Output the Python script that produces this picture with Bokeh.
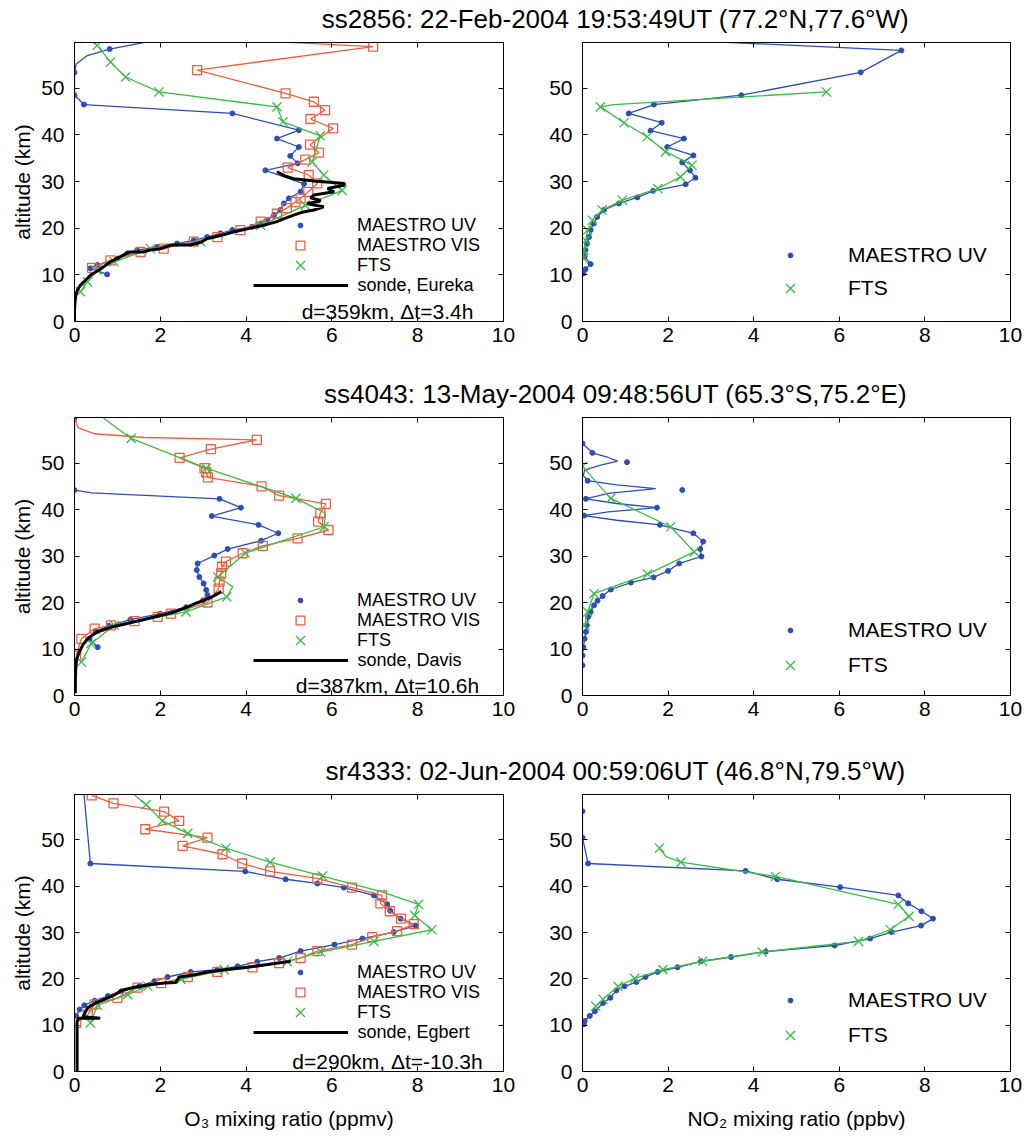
from bokeh.plotting import figure
from bokeh.models import Range1d, LinearAxis, FixedTicker, Legend, LegendItem, Label
from bokeh.layouts import column, row
from bokeh.embed import file_html
from bokeh.resources import INLINE

# ---------------- text ----------------
titles = ["ss2856: 22-Feb-2004 19:53:49UT (77.2°N,77.6°W)",
          "ss4043: 13-May-2004 09:48:56UT (65.3°S,75.2°E)",
          "sr4333: 02-Jun-2004 00:59:06UT (46.8°N,79.5°W)"]
sonde_names = ["sonde, Eureka", "sonde, Davis", "sonde, Egbert"]
coincidence = ["d=359km, Δt=3.4h", "d=387km, Δt=10.6h", "d=290km, Δt=-10.3h"]
x_ticks = [0, 2, 4, 6, 8, 10]
y_ticks = [0, 10, 20, 30, 40, 50]

# ---------------- row 1 : ss2856 ----------------
uv1_alt = [58.4, 53.4, 48.5, 46.5, 44.6, 41.0, 39.2, 37.4, 35.5, 33.9, 32.4, 29.5, 27.8, 26.4, 25.3, 23.9, 22.8, 21.7, 21.0, 20.3, 19.6, 18.9, 18.1, 17.4, 16.7, 16.0, 15.3, 14.6, 13.5, 12.1, 11.4, 10.1]
uv1_o3 = [0.82, 0.0, 0.0, 0.22, 3.68, 5.23, 4.72, 5.23, 5.03, 5.2, 4.45, 5.35, 5.27, 5.0, 4.88, 4.8, 4.65, 4.49, 4.34, 4.14, 3.68, 3.4, 3.09, 2.78, 2.39, 1.93, 1.46, 1.23, 1.0, 0.53, 0.37, 0.76]
uv1_extra_alt = [60.3, 57.0, 55.2, 50.8]
uv1_extra_o3 = [1.9, 0.3, 0.04, 0.0]
vis1_alt = [58.9, 53.9, 48.9, 47.1, 45.3, 43.4, 41.4, 37.9, 36.2, 34.7, 33.0, 31.4, 29.6, 27.8, 26.4, 25.6, 24.3, 23.1, 21.4, 19.6, 18.1, 17.1, 15.6, 14.9, 13.1, 11.5]
vis1_o3 = [6.96, 2.86, 4.92, 5.58, 5.84, 5.5, 6.03, 5.49, 5.7, 5.38, 4.97, 5.46, 5.66, 5.45, 5.27, 5.15, 4.95, 4.72, 4.34, 3.87, 3.33, 2.78, 2.08, 1.54, 0.84, 0.41]
vis1_extra_alt = [60.3]
vis1_extra_o3 = [4.0]
fts1_alt = [59.2, 55.6, 52.4, 49.2, 46.0, 42.8, 39.8, 34.2, 31.4, 28.1, 24.9, 20.6, 17.1, 15.6, 12.8, 11.0, 8.5, 6.4]
fts1_o3 = [0.53, 0.84, 1.19, 1.97, 4.72, 4.86, 5.73, 5.54, 5.81, 6.24, 5.38, 4.34, 2.94, 1.77, 0.92, 0.53, 0.3, 0.14]
fts1_extra_alt = [60.5]
fts1_extra_o3 = [0.3]
sonde1_alt = [0.0, 2.0, 4.0, 5.6, 6.8, 7.8, 8.8, 9.9, 11.2, 12.8, 13.8, 14.9, 14.9, 15.3, 15.6, 15.9, 16.4, 16.4, 17.0, 17.8, 18.4, 19.2, 19.8, 20.6, 21.4, 22.1, 22.8, 23.4, 23.9, 24.6, 25.0, 25.3, 25.7, 26.0, 26.5, 27.1, 27.8, 28.5, 29.2, 29.6, 30.1, 30.6, 31.2, 32.1]
sonde1_o3 = [0.0, 0.0, 0.01, 0.03, 0.07, 0.14, 0.25, 0.37, 0.6, 0.84, 1.05, 1.27, 1.6, 1.75, 2.0, 2.1, 2.24, 2.7, 2.95, 3.09, 3.4, 3.71, 4.0, 4.4, 4.72, 4.9, 5.11, 5.3, 5.58, 5.81, 5.55, 5.42, 5.7, 5.73, 5.5, 5.58, 6.05, 5.9, 6.28, 6.3, 5.58, 5.11, 4.9, 4.72]
uv2_alt = [58.1, 53.4, 48.5, 46.5, 44.6, 42.6, 40.9, 39.2, 37.4, 35.6, 34.1, 32.4, 30.8, 29.4, 28.0, 26.6, 25.3, 23.9, 22.4, 21.0, 19.6, 18.1, 16.7, 15.3, 13.9, 12.3, 11.2, 10.3]
uv2_no2 = [7.45, 6.5, 3.71, 1.67, 1.08, 1.85, 1.59, 2.37, 1.98, 2.59, 2.33, 2.51, 2.64, 2.41, 1.65, 1.28, 0.85, 0.5, 0.34, 0.26, 0.19, 0.15, 0.11, 0.07, 0.05, 0.19, 0.07, 0.02]
uv2_extra_alt = [60.0]
uv2_extra_no2 = [3.0]
fts2_alt = [49.2, 46.0, 42.6, 39.6, 36.4, 33.5, 31.0, 28.5, 26.0, 23.9, 21.7, 19.6, 17.4, 15.3, 13.5]
fts2_no2 = [5.7, 0.42, 0.97, 1.51, 1.94, 2.56, 2.29, 1.76, 0.93, 0.46, 0.23, 0.12, 0.07, 0.03, 0.02]
fts2_extra_alt = [46.5]
fts2_extra_no2 = [0.73]

# ---------------- row 2 : ss4043 ----------------
uv3_alt = [59.6, 44.2, 42.3, 40.4, 38.6, 36.7, 34.9, 33.3, 31.5, 30.1, 28.4, 27.0, 25.5, 24.1, 22.7, 21.6, 20.5, 19.0, 17.6, 16.3, 15.0, 13.8, 12.2, 10.4]
uv3_o3 = [0.0, 0.0, 3.38, 3.88, 3.2, 4.29, 4.75, 4.35, 3.57, 3.26, 2.87, 2.85, 2.91, 3.01, 3.07, 3.1, 3.0, 2.6, 2.0, 1.3, 0.8, 0.5, 0.35, 0.54]
uv3_extra_alt = [60.0, 43.6]
uv3_extra_o3 = [0.0, 0.4]
vis3_alt = [55.0, 53.0, 51.1, 48.9, 48.0, 46.9, 45.0, 43.0, 41.2, 39.2, 37.4, 35.6, 33.8, 32.2, 30.6, 28.8, 27.7, 26.3, 24.5, 23.0, 20.0, 17.6, 16.9, 16.0, 15.1, 14.4, 12.2, 8.6]
vis3_o3 = [4.25, 3.18, 2.45, 3.03, 3.07, 3.11, 4.36, 4.77, 5.86, 5.73, 5.68, 5.92, 5.2, 4.39, 3.92, 3.53, 3.44, 3.42, 3.38, 3.36, 3.1, 2.25, 1.94, 1.4, 0.85, 0.47, 0.16, 0.04]
vis3_extra_alt = [59.9, 57.6, 56.3, 55.5]
vis3_extra_o3 = [0.0, 0.08, 0.47, 1.63]
fts3_alt = [55.3, 48.9, 42.4, 36.3, 30.6, 25.5, 21.2, 18.0, 15.1, 11.2, 7.2]
fts3_o3 = [1.32, 3.07, 5.16, 5.82, 3.98, 3.34, 3.55, 2.6, 0.93, 0.39, 0.16]
fts3_extra_alt = [60.2, 39.2, 23.4]
fts3_extra_o3 = [0.6, 5.85, 3.69]
sonde3_alt = [0.5, 3.0, 6.0, 7.9, 9.5, 11.0, 12.2, 13.0, 13.7, 14.2, 14.7, 15.2, 15.7, 16.3, 16.9, 17.4, 18.0, 18.6, 19.4, 19.9, 20.5, 21.2, 21.9, 22.4]
sonde3_o3 = [0.02, 0.02, 0.03, 0.05, 0.12, 0.2, 0.31, 0.42, 0.54, 0.7, 0.85, 1.1, 1.32, 1.6, 1.86, 2.1, 2.33, 2.5, 2.72, 2.85, 3.03, 3.2, 3.34, 3.42]
uv4_alt = [54.2, 52.2, 50.2, 46.2, 44.2, 42.3, 40.4, 38.7, 36.7, 34.9, 33.1, 31.5, 29.9, 28.4, 26.8, 25.4, 24.3, 22.8, 21.4, 20.4, 19.4, 18.0, 16.9, 15.1, 13.7, 12.2, 10.4, 8.6, 6.5]
uv4_no2 = [0.0, 0.23, 1.04, 0.12, 2.33, 0.08, 1.74, 0.04, 1.81, 2.59, 2.82, 2.75, 2.78, 2.26, 2.0, 1.66, 1.13, 0.66, 0.47, 0.35, 0.27, 0.19, 0.13, 0.1, 0.08, 0.05, 0.02, 0.0, 0.0]
uv4_curve_alt = [59.8, 54.2, 52.2, 51.2, 50.4, 49.5, 48.5, 47.3, 46.2, 45.3, 44.5, 43.5, 42.3, 41.3, 40.4, 39.5, 38.7, 37.7, 36.7, 34.9, 33.1, 31.5, 29.9, 28.4, 26.8, 25.4, 24.3, 22.8, 21.4, 20.4, 19.4, 18.0, 16.9, 15.1, 13.7, 12.2, 10.4, 8.6, 6.5]
uv4_curve_no2 = [0.0, 0.0, 0.23, 0.6, 0.82, 0.4, 0.05, 0.02, 0.12, 0.8, 1.71, 0.6, 0.08, 0.8, 1.74, 0.6, 0.04, 0.8, 1.81, 2.59, 2.82, 2.75, 2.78, 2.26, 2.0, 1.66, 1.13, 0.66, 0.47, 0.35, 0.27, 0.19, 0.13, 0.1, 0.08, 0.05, 0.02, 0.0, 0.0]
fts4_alt = [49.3, 42.4, 36.3, 30.9, 26.1, 21.9, 18.0, 15.1]
fts4_no2 = [0.0, 0.66, 2.06, 2.61, 1.52, 0.27, 0.12, 0.05]

# ---------------- row 3 : sr4333 ----------------
uv5_alt = [44.9, 43.2, 41.5, 40.6, 39.7, 38.0, 36.1, 34.7, 33.0, 31.5, 30.1, 28.7, 27.4, 26.0, 24.5, 23.7, 22.7, 22.0, 21.5, 20.4, 19.5, 18.4, 17.3, 16.3, 15.3, 14.3, 13.4, 12.0]
uv5_o3 = [0.37, 3.98, 4.92, 5.66, 6.28, 6.98, 7.29, 7.36, 7.6, 7.95, 7.44, 6.71, 6.06, 5.27, 4.77, 4.26, 3.8, 3.33, 2.71, 2.17, 1.86, 1.51, 1.09, 0.78, 0.47, 0.23, 0.12, 0.04]
uv5_extra_alt = [60.0]
uv5_extra_o3 = [0.22]
vis5_alt = [59.6, 57.9, 56.1, 54.1, 52.3, 50.5, 48.7, 46.9, 44.9, 43.2, 41.7, 39.7, 38.0, 36.3, 34.6, 33.0, 31.8, 30.3, 29.0, 27.4, 26.0, 24.5, 23.4, 22.5, 21.5, 20.4, 19.1, 18.1, 15.9, 14.5, 12.3, 10.5]
vis5_o3 = [0.4, 0.91, 2.09, 2.44, 1.65, 3.1, 2.52, 3.45, 3.91, 4.56, 5.66, 6.47, 7.17, 7.13, 7.35, 7.61, 7.91, 7.52, 6.94, 6.47, 5.66, 5.27, 4.77, 4.15, 3.33, 2.64, 2.02, 1.47, 1.0, 0.47, 0.31, 0.04]
fts5_alt = [57.6, 54.1, 51.4, 48.2, 45.2, 42.2, 36.1, 33.7, 30.6, 28.1, 25.8, 23.7, 22.0, 19.9, 18.4, 16.6, 14.3, 10.5]
fts5_o3 = [1.67, 2.05, 2.64, 3.53, 4.56, 5.78, 8.02, 7.93, 8.33, 6.98, 5.74, 4.96, 3.49, 2.48, 1.71, 1.24, 0.54, 0.37]
fts5_extra_alt = [60.5, 38.9]
fts5_extra_o3 = [1.3, 7.13]
sonde5_alt = [0.1, 5.0, 10.9, 11.5, 11.5, 11.8, 12.8, 13.8, 14.8, 15.8, 16.6, 17.5, 18.2, 18.8, 19.1, 19.2, 20.4, 20.9, 21.5, 22.0, 22.5, 23.1, 23.8]
sonde5_o3 = [0.06, 0.06, 0.06, 0.1, 0.6, 0.2, 0.25, 0.31, 0.5, 0.75, 0.95, 1.09, 1.4, 1.78, 2.1, 2.36, 2.44, 2.8, 3.1, 3.55, 4.03, 4.5, 5.04]
uv6_alt = [56.2, 50.5, 44.9, 43.3, 41.5, 39.8, 38.0, 36.3, 34.6, 33.0, 31.5, 30.1, 28.7, 27.2, 25.9, 24.7, 23.8, 22.5, 21.5, 20.4, 19.3, 18.4, 17.5, 15.9, 14.8, 13.0, 12.0, 10.9, 10.2]
uv6_no2 = [0.0, 0.0, 0.13, 3.81, 4.55, 6.02, 7.38, 7.61, 7.92, 8.19, 7.91, 7.22, 6.72, 5.89, 4.28, 3.47, 2.77, 2.22, 1.76, 1.47, 1.26, 0.98, 0.79, 0.65, 0.48, 0.29, 0.17, 0.05, 0.03]
fts6_alt = [48.2, 45.2, 42.1, 36.1, 33.5, 30.6, 28.1, 25.8, 23.8, 22.0, 20.1, 18.4, 15.6, 14.1]
fts6_no2 = [1.8, 2.3, 4.51, 7.38, 7.63, 7.19, 6.45, 4.2, 2.81, 1.88, 1.22, 0.83, 0.48, 0.31]
fts6_extra_alt = [46.4]
fts6_extra_no2 = [1.95]

# ---------------- style ----------------
FONT = "Liberation Sans"
BLUE = "#2d4eb5"
RED = "#ef5f3f"
GREEN = "#3cbb48"
Y_TOP = 59.8
FS = "21px"
KEY_FS = "18px"


def merged(alt_a, val_a, alt_b=(), val_b=()):
    pts = sorted(zip(list(alt_a) + list(alt_b), list(val_a) + list(val_b)), key=lambda t: -t[0])
    return [v for a, v in pts], [a for a, v in pts]


def style_axis(ax, standoff):
    ax.axis_line_color = "black"
    ax.major_tick_line_color = "black"
    ax.major_tick_in = 5
    ax.major_tick_out = 0
    ax.minor_tick_line_color = None
    ax.major_label_text_font = FONT
    ax.major_label_text_font_size = FS
    ax.major_label_text_color = "black"
    ax.major_label_standoff = standoff


def make_panel(fw, fh, bl, br, bt, bb, ylabel=None, xlabel=None):
    p = figure(frame_width=fw, frame_height=fh, x_range=Range1d(0, 10), y_range=Range1d(0, Y_TOP),
               min_border_left=bl, min_border_right=br, min_border_top=bt, min_border_bottom=bb,
               output_backend="svg", toolbar_location=None)
    p.xgrid.visible = False
    p.ygrid.visible = False
    p.outline_line_color = "black"
    p.outline_line_alpha = 1.0
    p.xaxis[0].ticker = FixedTicker(ticks=x_ticks)
    p.yaxis[0].ticker = FixedTicker(ticks=y_ticks)
    style_axis(p.xaxis[0], 6)
    style_axis(p.yaxis[0], 10)
    for ax in (p.xaxis[0], p.yaxis[0]):
        ax.axis_label_text_font = FONT
        ax.axis_label_text_font_size = FS
        ax.axis_label_text_font_style = "normal"
        ax.axis_label_text_color = "black"
    p.yaxis[0].axis_label_standoff = 4
    p.xaxis[0].axis_label_standoff = 12
    if ylabel:
        p.yaxis[0].axis_label = ylabel
    if xlabel:
        p.xaxis[0].axis_label = xlabel
    top = LinearAxis(ticker=FixedTicker(ticks=x_ticks), major_label_overrides={t: "" for t in x_ticks})
    right = LinearAxis(ticker=FixedTicker(ticks=y_ticks), major_label_overrides={t: "" for t in y_ticks})
    for ax in (top, right):
        style_axis(ax, 0)
        ax.major_label_text_font_size = "1px"
    p.add_layout(top, "above")
    p.add_layout(right, "right")
    return p


def series(p, line_xy, mx, my, color, marker, size):
    p.line(line_xy[0], line_xy[1], line_color=color, line_width=1.3)
    if marker == "circle":
        return p.scatter(mx, my, marker="circle", size=size, fill_color=color, line_color=color)
    return p.scatter(mx, my, marker=marker, size=size, fill_color=None, line_color=color, line_width=1.3)


def key(p, label, rend, x_center, y_center, gw, gh, text_x, font_size):
    h = max(gh, 24)
    x_left = x_center - gw / 2
    p.add_layout(Legend(items=[LegendItem(label=label, renderers=[rend])],
                        location=(x_left, y_center - h / 2),
                        orientation="vertical", background_fill_alpha=0, border_line_color=None,
                        padding=0, margin=0, spacing=0, glyph_width=gw, glyph_height=h,
                        label_height=h, label_standoff=int(round(text_x - x_left - gw)),
                        label_text_font=FONT, label_text_font_size=font_size, label_text_color="black"))


def title_fig(h, text, y):
    t = figure(frame_width=1026, frame_height=h, x_range=Range1d(0, 1), y_range=Range1d(0, 1),
               min_border=0, x_axis_location=None, y_axis_location=None,
               outline_line_color=None, toolbar_location=None, output_backend="svg")
    t.grid.visible = False
    t.add_layout(Label(x=615, y=y, x_units="screen", y_units="screen", text=text, text_align="center",
                       text_baseline="middle", text_font=FONT, text_font_size="26px", text_color="black"))
    return t


def o3_panel(fh, bt, bb, xlabel, uv, vis, fts, sonde, sname, note, keys_y):
    p = make_panel(429, fh, 74, 40, bt, bb, ylabel="altitude (km)", xlabel=xlabel)
    r_uv = series(p, uv[0], uv[1], uv[2], BLUE, "circle", 5)
    r_vis = series(p, vis[0], vis[1], vis[2], RED, "square", 9)
    r_fts = series(p, fts[0], fts[1], fts[2], GREEN, "x", 13)
    r_sonde = p.line(sonde[0], sonde[1], line_color="black", line_width=3)
    key(p, "MAESTRO UV", r_uv, 226, keys_y[0], 12, 12, 283, KEY_FS)
    key(p, "MAESTRO VIS", r_vis, 226, keys_y[1], 22, 22, 283, KEY_FS)
    key(p, "FTS", r_fts, 226, keys_y[2], 32, 32, 283, KEY_FS)
    key(p, sname, r_sonde, 226, keys_y[3], 95, 20, 283, KEY_FS)
    p.add_layout(Label(x=313, y=10, x_units="screen", y_units="screen", text=note, text_align="center",
                       text_baseline="middle", text_font=FONT, text_font_size=FS, text_color="black"))
    return p


def no2_panel(fh, bt, bb, xlabel, uv, fts, keys_y):
    p = make_panel(428, fh, 39, 16, bt, bb, xlabel=xlabel)
    r_uv = series(p, uv[0], uv[1], uv[2], BLUE, "circle", 5)
    r_fts = series(p, fts[0], fts[1], fts[2], GREEN, "x", 13)
    key(p, "MAESTRO UV", r_uv, 208, keys_y[0], 12, 12, 266, FS)
    key(p, "FTS", r_fts, 208, keys_y[1], 32, 32, 266, FS)
    return p


O3_LABEL = "O₃ mixing ratio (ppmv)"
NO2_LABEL = "NO₂ mixing ratio (ppbv)"

p1 = o3_panel(279, 7, 37, None,
              (merged(uv1_alt, uv1_o3, uv1_extra_alt, uv1_extra_o3), uv1_o3, uv1_alt),
              (merged(vis1_alt, vis1_o3, vis1_extra_alt, vis1_extra_o3), vis1_o3, vis1_alt),
              (merged(fts1_alt, fts1_o3, fts1_extra_alt, fts1_extra_o3), fts1_o3, fts1_alt),
              (sonde1_o3, sonde1_alt), sonde_names[0], coincidence[0], [96, 76, 56, 36])
p2 = no2_panel(279, 7, 37, None,
               (merged(uv2_alt, uv2_no2, uv2_extra_alt, uv2_extra_no2), uv2_no2, uv2_alt),
               (merged(fts2_alt, fts2_no2, fts2_extra_alt, fts2_extra_no2), fts2_no2, fts2_alt),
               [66, 33])
p3 = o3_panel(278, 7, 39, None,
              (merged(uv3_alt, uv3_o3, uv3_extra_alt, uv3_extra_o3), uv3_o3, uv3_alt),
              (merged(vis3_alt, vis3_o3, vis3_extra_alt, vis3_extra_o3), vis3_o3, vis3_alt),
              (merged(fts3_alt, fts3_o3, fts3_extra_alt, fts3_extra_o3), fts3_o3, fts3_alt),
              (sonde3_o3, sonde3_alt), sonde_names[1], coincidence[1], [95, 75, 55, 35])
p4 = no2_panel(278, 7, 39, None,
               ((uv4_curve_no2, uv4_curve_alt), uv4_no2, uv4_alt),
               (merged(fts4_alt, fts4_no2), fts4_no2, fts4_alt),
               [65, 30])
p5 = o3_panel(277, 7, 66, O3_LABEL,
              (merged(uv5_alt, uv5_o3, uv5_extra_alt, uv5_extra_o3), uv5_o3, uv5_alt),
              (merged(vis5_alt, vis5_o3), vis5_o3, vis5_alt),
              (merged(fts5_alt, fts5_o3, fts5_extra_alt, fts5_extra_o3), fts5_o3, fts5_alt),
              (sonde5_o3, sonde5_alt), sonde_names[2], coincidence[2], [99, 79, 59, 39])
p6 = no2_panel(277, 7, 66, NO2_LABEL,
               (merged(uv6_alt, uv6_no2), uv6_no2, uv6_alt),
               (merged(fts6_alt, fts6_no2, fts6_extra_alt, fts6_extra_no2), fts6_no2, fts6_alt),
               [71, 36])

layout = column(title_fig(35, titles[0], 17), row(p1, p2),
                title_fig(52, titles[1], 17), row(p3, p4),
                title_fig(53, titles[2], 17), row(p5, p6))

open("out.html", "w").write(file_html(layout, INLINE))
